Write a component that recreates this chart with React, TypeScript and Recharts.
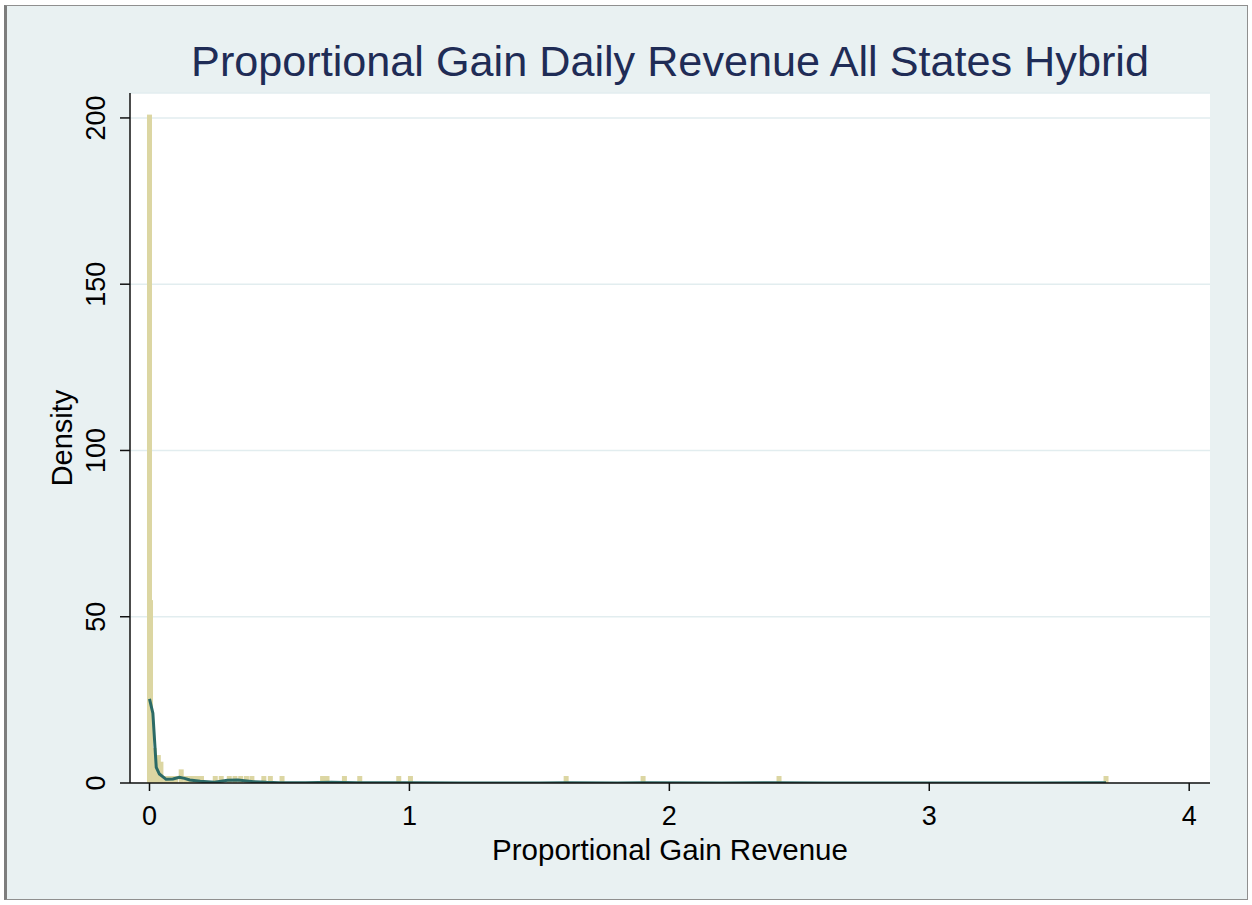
import React from 'react';
import { ComposedChart, Bar, Line, XAxis, YAxis, CartesianGrid, Label } from 'recharts';

// histogram bins (bin centre, density)
const binCenters = [
  0, 0.004, 0.0185, 0.034, 0.044, 0.062, 0.075, 0.088, 0.1, 0.122,
  0.14, 0.155, 0.17, 0.185, 0.2, 0.253, 0.276, 0.307, 0.329, 0.351,
  0.373, 0.394, 0.44, 0.465, 0.51, 0.666, 0.683, 0.75, 0.809, 0.959,
  1.004, 1.603, 1.899, 2.422, 3.68,
];
const binDensity = [
  201, 55, 10.5, 8.4, 6.4, 2.1, 2.1, 2.1, 2.1, 4.1,
  2.1, 2.1, 2.1, 2.1, 2.1, 2.1, 2.1, 2.1, 2.1, 2.1,
  2.1, 2.1, 2.1, 2.1, 2.1, 2.1, 2.1, 2.1, 2.1, 2.1,
  2.1, 2.1, 2.1, 2.1, 2.1,
];

// kernel density curve
const kdX = [0, 0.013, 0.026, 0.038, 0.064, 0.09, 0.115, 0.135, 0.155, 0.195, 0.25, 0.3, 0.34, 0.4, 0.45, 0.5, 0.6, 0.7, 0.8, 0.9, 1.0, 1.2, 1.5, 1.6, 1.8, 1.9, 2.2, 2.4, 2.6, 3.0, 3.4, 3.68];
const kdY = [25.3, 21, 4.7, 2.7, 1.1, 1.2, 1.7, 1.4, 0.9, 0.5, 0.2, 0.8, 0.9, 0.4, 0.2, 0.1, 0.05, 0.2, 0.1, 0.05, 0.1, 0.02, 0.02, 0.05, 0.02, 0.05, 0.02, 0.05, 0.01, 0.01, 0.01, 0.05];

const xTicks = [0, 1, 2, 3, 4];
const yTicks = [0, 50, 100, 150, 200];

const FONT = '"Liberation Sans", Arial, Helvetica, sans-serif';
const BAR_COLOR = '#dcd6a2';
const LINE_COLOR = '#2b6a66';

const histData = binCenters.map((x, i) => ({ x, density: binDensity[i] }));
const kdData = kdX.map((x, i) => ({ x, kd: kdY[i] }));

const HistBar = (props: any) => {
  const { x, y, width, height } = props;
  if (height == null || height <= 0) return null;
  const cx = x + width / 2;
  return <rect x={cx - 2.5} y={y} width={5} height={height} fill={BAR_COLOR} />;
};

const YTick = (props: any) => {
  const { x, y, payload } = props;
  return (
    <text
      transform={`translate(${x - 13},${y}) rotate(-90)`}
      textAnchor="middle"
      fontSize={27}
      fontFamily={FONT}
      fill="#000"
    >
      {payload.value}
    </text>
  );
};

export default function App() {
  return (
    <div style={{ position: 'absolute', left: 0, top: 0, width: 1252, height: 905, background: '#fff' }}>
      <div
        style={{
          position: 'absolute',
          left: 4,
          top: 5,
          width: 1240,
          height: 893,
          background: '#e9f1f2',
          borderTop: '1px solid #8f8f8f',
          borderRight: '1px solid #8f8f8f',
          borderBottom: '1px solid #8f8f8f',
          borderLeft: '3px solid #7d7d7d',
        }}
      />
      <div style={{ position: 'absolute', left: 0, top: 0 }}>
        <ComposedChart
          width={1252}
          height={905}
          data={histData}
          margin={{ top: 93, right: 42, left: 0, bottom: 0 }}
          barGap={0}
        >
          <CartesianGrid vertical={false} fill="#ffffff" stroke="#e2edef" strokeWidth={1.5} />
          <XAxis
            dataKey="x"
            type="number"
            domain={[-0.075, 4.08]}
            ticks={xTicks}
            allowDataOverflow
            height={122}
            tickSize={8}
            tickMargin={15}
            axisLine={{ stroke: '#111', strokeWidth: 1.5 }}
            tickLine={{ stroke: '#111', strokeWidth: 1.5 }}
            tick={{ fontSize: 27, fontFamily: FONT, fill: '#000' }}
          >
            <Label
              value="Proportional Gain Revenue"
              position="insideBottom"
              offset={45}
              style={{ fontSize: 29.5, fontFamily: FONT, fill: '#000' }}
            />
          </XAxis>
          <YAxis
            type="number"
            domain={[0, 207.5]}
            ticks={yTicks}
            allowDataOverflow
            width={130}
            tickSize={10}
            axisLine={{ stroke: '#111', strokeWidth: 1.5 }}
            tickLine={{ stroke: '#111', strokeWidth: 1.5 }}
            tick={<YTick />}
          >
            <Label
              value="Density"
              angle={-90}
              position="insideLeft"
              offset={62}
              style={{ fontSize: 29, fontFamily: FONT, fill: '#000', textAnchor: 'middle' }}
            />
          </YAxis>
          <Bar dataKey="density" barSize={5} shape={<HistBar />} isAnimationActive={false} />
          <Line
            data={kdData}
            dataKey="kd"
            type="linear"
            stroke={LINE_COLOR}
            strokeWidth={3}
            dot={false}
            activeDot={false}
            isAnimationActive={false}
          />
        </ComposedChart>
      </div>
      <svg width={1252} height={905} style={{ position: 'absolute', left: 0, top: 0, pointerEvents: 'none' }}>
        <text x={670} y={76} textAnchor="middle" fontSize={43.2} fontFamily={FONT} fill="#1f2c56">
          Proportional Gain Daily Revenue All States Hybrid
        </text>
      </svg>
    </div>
  );
}
